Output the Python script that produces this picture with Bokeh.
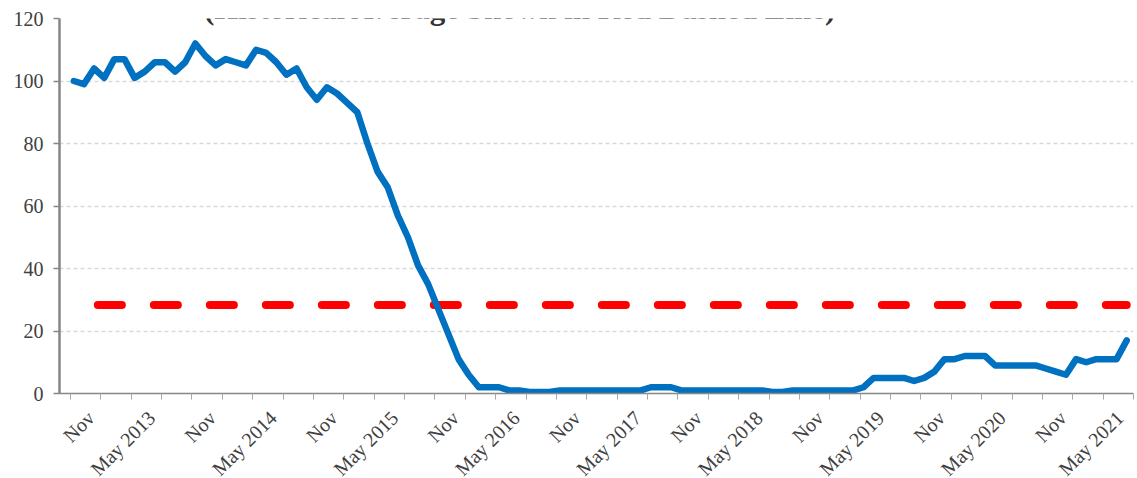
import numpy as np
from math import pi
from bokeh.plotting import figure
from bokeh.models import Range1d, FixedTicker, Label
from bokeh.embed import file_html
from bokeh.resources import INLINE

title_text = "(Historical Average Shown in Red Dashed Line)"

# monthly values, Aug 2012 .. Apr 2021
values = [100, 99, 104, 101, 107, 107, 101, 103, 106, 106,
          103, 106, 112, 108, 105, 107, 106, 105, 110, 109,
          106, 102, 104, 98, 94, 98, 96, 93, 90, 80,
          71, 66, 57, 50, 41, 35, 27, 19, 11, 6,
          2, 2, 2, 1, 1, 0.5, 0.5, 0.5, 1, 1,
          1, 1, 1, 1, 1, 1, 1, 2, 2, 2,
          1, 1, 1, 1, 1, 1, 1, 1, 1, 0.5,
          0.5, 1, 1, 1, 1, 1, 1, 1, 2, 5,
          5, 5, 5, 4, 5, 7, 11, 11, 12, 12,
          12, 9, 9, 9, 9, 9, 8, 7, 6, 11,
          10, 11, 11, 11, 17]
historical_avg = 28.3

x_labels = ["Nov", "May 2013", "Nov", "May 2014", "Nov", "May 2015",
            "Nov", "May 2016", "Nov", "May 2017", "Nov", "May 2018",
            "Nov", "May 2019", "Nov", "May 2020", "Nov", "May 2021"]
y_ticks = [0, 20, 40, 60, 80, 100, 120]

n = len(values)
x = np.arange(n) + 0.33          # month index (0 = Aug 2012 tick)
ticks = list(range(0, 106, 3))   # quarterly tick marks
overrides = {t: "" for t in ticks}
for j, lab in enumerate(x_labels):
    overrides[3 + 6 * j] = lab + "\u2002\u2009"   # small pad so text ends at the tick like Excel

p = figure(width=1137, height=490, x_range=Range1d(-1.087, 105), y_range=Range1d(0, 120),
           output_backend="svg", toolbar_location=None,
           min_border_left=59, min_border_right=4, min_border_top=18, min_border_bottom=97)
p.outline_line_color = None
p.background_fill_color = "white"
p.border_fill_color = "white"

p.xgrid.grid_line_color = None
p.ygrid.ticker = FixedTicker(ticks=y_ticks)
p.ygrid.grid_line_color = "#D9D9D9"
p.ygrid.grid_line_width = 1.3
p.ygrid.grid_line_dash = "4 3"

font = "Liberation Serif"
for ax in (p.xaxis[0], p.yaxis[0]):
    ax.major_label_text_font = font
    ax.major_label_text_font_size = "20px"
    ax.major_label_text_color = "#404040"
    ax.axis_line_color = "#868686"
    ax.major_tick_line_color = "#868686"
    ax.major_tick_in = 0
    ax.major_tick_out = 6
    ax.minor_tick_out = 0
    ax.minor_tick_in = 0

p.yaxis.ticker = FixedTicker(ticks=y_ticks)
p.yaxis.axis_line_width = 2.5
p.yaxis.major_tick_line_width = 1.5
p.yaxis.major_label_standoff = 10

p.xaxis.ticker = FixedTicker(ticks=ticks)
p.xaxis.major_label_overrides = overrides
p.xaxis.major_label_orientation = pi / 4
p.xaxis.axis_line_width = 1.5
p.xaxis.major_tick_line_color = "#A6A6A6"
p.xaxis.major_tick_line_width = 1
p.xaxis.major_label_standoff = 5

p.line(x, [historical_avg] * n, line_color="#FF0000", line_width=8,
       line_dash="24 32", line_dash_offset=32, line_cap="round")
p.line(x, values, line_color="#0070C0", line_width=6.5, line_join="round", line_cap="round")

p.add_layout(Label(x=44.45, y=123.36, text=title_text, text_font=font,
                   text_font_style="bold", text_font_size="31px", text_color="#333333",
                   text_align="center", text_baseline="alphabetic"))

open("out.html", "w").write(file_html(p, INLINE))
